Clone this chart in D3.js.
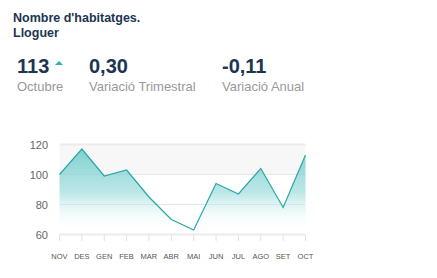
<!DOCTYPE html>
<html>
<head>
<meta charset="utf-8">
<script src="https://cdn.jsdelivr.net/npm/d3@7"></script>
<style>
  body { margin: 0; background: #fff; font-family: "Liberation Sans", Arial, sans-serif; }
</style>
</head>
<body>
<svg id="chart" width="437" height="278"></svg>
<script>
// data
const months = ["NOV", "DES", "GEN", "FEB", "MAR", "ABR", "MAI", "JUN", "JUL", "AGO", "SET", "OCT"];
const values = [100, 117, 99, 103, 85, 70, 63, 94, 87, 104, 78, 113];
const yTicks = [60, 80, 100, 120];
const kpiValues = ["113", "0,30", "-0,11"];
const kpiLabels = ["Octubre", "Variació Trimestral", "Variació Anual"];

let svg = d3.select("#chart");

// header
svg.append("text").attr("x", 13).attr("y", 22)
    .style("font-size", "12.5px").style("font-weight", "bold").attr("fill", "#1c3553")
    .text("Nombre d'habitatges.");
svg.append("text").attr("x", 13).attr("y", 37)
    .style("font-size", "12.5px").style("font-weight", "bold").attr("fill", "#1c3553")
    .text("Lloguer");

// kpis
let kpiX = [17, 89, 222];
kpiValues.forEach(function (v, i) {
    svg.append("text").attr("x", kpiX[i]).attr("y", 73)
        .style("font-size", "20px").style("font-weight", "bold").attr("fill", "#1c3553")
        .text(v);
    svg.append("text").attr("x", kpiX[i]).attr("y", 91)
        .style("font-size", "13px").attr("fill", "#999")
        .text(kpiLabels[i]);
});
// up arrow next to the first value
svg.append("path").attr("d", "M55,65 L59,61 L63,65 Z").attr("fill", "#2fb0ad");

// chart area
let x = d3.scalePoint().domain(months).range([59.5, 305.5]);
let y = d3.scaleLinear().domain([60, 120]).range([234.5, 144.5]);

let defs = svg.append("defs");
let grad = defs.append("linearGradient").attr("id", "fillGrad")
    .attr("x1", 0).attr("y1", 0).attr("x2", 0).attr("y2", 1)
    .attr("gradientUnits", "userSpaceOnUse")
    .attr("y1", y(120)).attr("y2", y(62));
grad.append("stop").attr("offset", "0%").attr("stop-color", "#6ccaca").attr("stop-opacity", 0.9);
grad.append("stop").attr("offset", "55%").attr("stop-color", "#9fdcdc").attr("stop-opacity", 0.7);
grad.append("stop").attr("offset", "100%").attr("stop-color", "#ffffff").attr("stop-opacity", 0);

// alternate band
svg.append("rect").attr("x", 59.5).attr("y", y(120))
    .attr("width", 305.5 - 59.5).attr("height", y(100) - y(120))
    .attr("fill", "#f7f7f7");

// grid lines
svg.selectAll("grid").data(yTicks).enter().append("line")
    .attr("x1", 59.5).attr("x2", 305.5)
    .attr("y1", function (d) { return y(d); })
    .attr("y2", function (d) { return y(d); })
    .attr("stroke", function (d) { return d === 120 || d === 60 ? "#ececec" : "#e6e6e6"; })
    .attr("stroke-width", function (d) { return d === 120 || d === 60 ? 2 : 1; });

// area + line
let area = d3.area().x(function (d, i) { return x(months[i]); })
    .y0(y(60)).y1(function (d) { return y(d); });
let line = d3.line().x(function (d, i) { return x(months[i]); })
    .y(function (d) { return y(d); });

svg.append("path").datum(values).attr("d", area).attr("fill", "url(#fillGrad)");
svg.append("path").datum(values).attr("d", line)
    .attr("fill", "none").attr("stroke", "#2aa7a7").attr("stroke-width", 1.2);

// y axis labels
svg.selectAll("ylab").data(yTicks).enter().append("text")
    .attr("x", 48).attr("y", function (d) { return y(d) + 4; })
    .attr("text-anchor", "end")
    .style("font-size", "11px").attr("fill", "#666")
    .text(function (d) { return d; });

// x axis ticks and labels
svg.selectAll("xtick").data(months).enter().append("line")
    .attr("x1", function (d) { return x(d); }).attr("x2", function (d) { return x(d); })
    .attr("y1", 235).attr("y2", 241)
    .attr("stroke", "#e0e0e0");
svg.selectAll("xlab").data(months).enter().append("text")
    .attr("x", function (d) { return x(d); }).attr("y", 259)
    .attr("text-anchor", "middle")
    .style("font-size", "7.5px").attr("fill", "#555")
    .text(function (d) { return d; });
</script>
</body>
</html>
